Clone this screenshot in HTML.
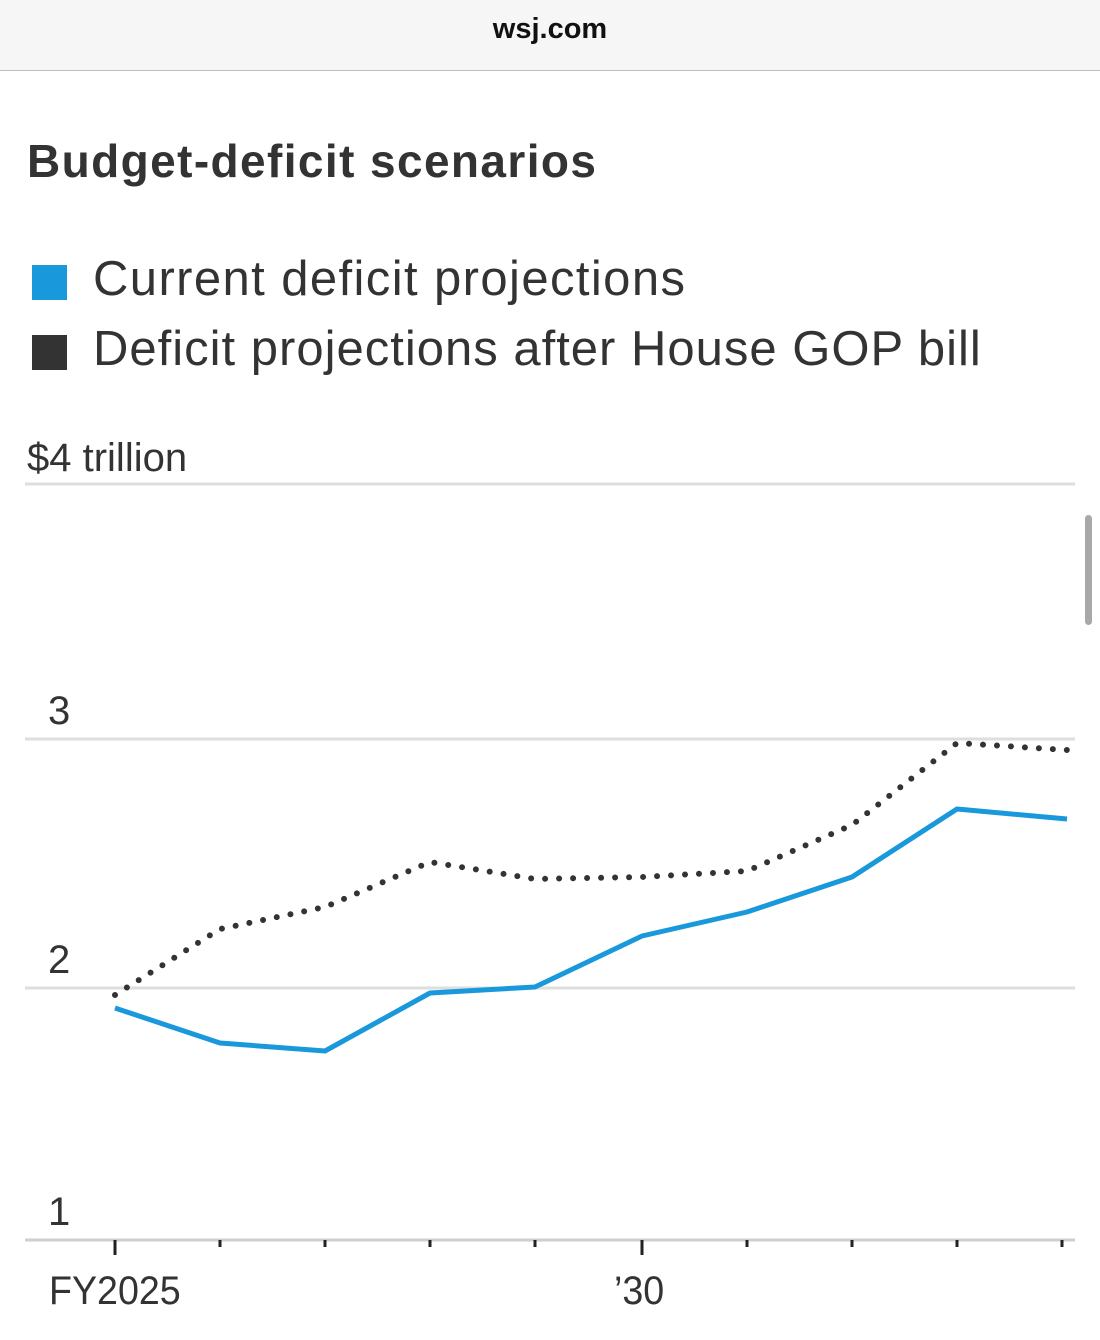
<!DOCTYPE html>
<html><head><meta charset="utf-8"><style>
body{margin:0;width:1100px;height:1340px;background:#fff;position:relative;overflow:hidden;font-family:"Liberation Sans",sans-serif;}
.top{position:absolute;left:0;top:0;width:1100px;height:70px;background:#f6f6f6;border-bottom:1px solid #bdbdbd;}
.top span{position:absolute;left:0;width:1100px;top:13px;text-align:center;font-size:29px;font-weight:bold;color:#111;}
.t{position:absolute;white-space:nowrap;color:#333;}
</style></head><body>
<div class="top"><span>wsj.com</span></div>
<div class="t" style="left:27px;top:134px;font-size:46px;font-weight:bold;letter-spacing:1.4px;color:#333">Budget-deficit scenarios</div>
<div style="position:absolute;left:32px;top:265px;width:35px;height:35px;background:#1a98dc"></div>
<div style="position:absolute;left:32px;top:335px;width:35px;height:35px;background:#333"></div>
<div class="t" style="left:93px;top:251px;font-size:49px;letter-spacing:1.4px">Current deficit projections</div>
<div class="t" style="left:93px;top:321px;font-size:49px;letter-spacing:1px">Deficit projections after House GOP bill</div>
<div class="t" style="left:27px;top:436px;font-size:40px;">$4 trillion</div>
<div class="t" style="left:48px;top:689px;font-size:40px">3</div>
<div class="t" style="left:48px;top:938px;font-size:40px">2</div>
<div class="t" style="left:48px;top:1190px;font-size:40px">1</div>
<div class="t" style="left:49px;top:1269px;font-size:40px;transform:scaleX(0.94);transform-origin:left;">FY2025</div>
<div class="t" style="left:614px;top:1269px;font-size:40px;transform:scaleX(0.94);transform-origin:left;">’30</div>
<div style="position:absolute;left:1085px;top:515px;width:7px;height:110px;border-radius:4px;background:#a8a8a8"></div>
<svg width="1100" height="1340" style="position:absolute;left:0;top:0">
<g stroke="#dedede" stroke-width="3">
<line x1="25" y1="484" x2="1075" y2="484"/><line x1="25" y1="739" x2="1075" y2="739"/><line x1="25" y1="988" x2="1075" y2="988"/>
</g>
<line x1="25" y1="1240" x2="1075" y2="1240" stroke="#cfcfcf" stroke-width="3"/>
<g stroke="#222" stroke-width="3">
<line x1="115" y1="1240" x2="115" y2="1255"/><line x1="220" y1="1240" x2="220" y2="1247"/><line x1="325" y1="1240" x2="325" y2="1247"/><line x1="430" y1="1240" x2="430" y2="1247"/><line x1="535" y1="1240" x2="535" y2="1247"/><line x1="642" y1="1240" x2="642" y2="1255"/><line x1="747" y1="1240" x2="747" y2="1247"/><line x1="852" y1="1240" x2="852" y2="1247"/><line x1="957" y1="1240" x2="957" y2="1247"/><line x1="1062" y1="1240" x2="1062" y2="1247"/>
</g>
<polyline fill="none" stroke="#1a98dc" stroke-width="5" stroke-linejoin="round" points="115,1008 220,1043 325,1051 430,993 535,987 642,936 747,912 852,877 957,809 1067,819"/>
<polyline fill="none" stroke="#333" stroke-width="6" stroke-linecap="round" stroke-dasharray="0 14" points="115,995 220,929 325,907 430,862 535,879 642,877 747,871 852,825 957,743 1067,750"/>
</svg>
</body></html>
